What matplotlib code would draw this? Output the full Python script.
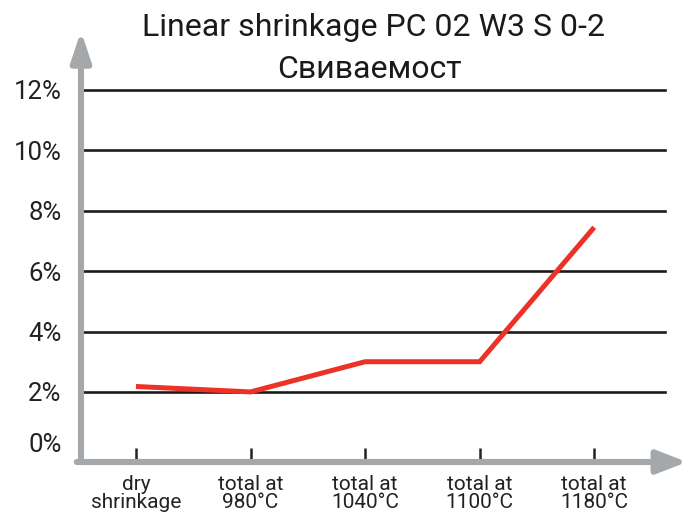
import matplotlib
matplotlib.use("Agg")
import matplotlib.pyplot as plt

# ---- data ----
categories = ["dry\nshrinkage", "total at\n980°C", "total at\n1040°C",
              "total at\n1100°C", "total at\n1180°C"]
shrinkage = [2.18, 2.0, 3.0, 3.0, 7.45]
y_ticks = [0, 2, 4, 6, 8, 10, 12]
y_tick_labels = ["0%", "2%", "4%", "6%", "8%", "10%", "12%"]
title_line1 = "Linear shrinkage PC 02 W3 S 0-2"
title_line2 = "Свиваемост"

plt.rcParams['font.family'] = ['Roboto', 'DejaVu Sans']

fig = plt.figure(figsize=(6.89, 5.13), dpi=100)
ax = fig.add_axes([81/689, 51/513, 606/689, 431/513])
x = list(range(len(categories)))

ax.set_xlim(-0.48, 4.81)
ax.set_ylim(-0.32, 13.95)

for s in ax.spines.values():
    s.set_visible(False)

grid_color = "#1c1c1c"
for v in y_ticks[1:]:
    ax.axhline(v, xmin=0.005, xmax=0.964, color=grid_color, lw=1.9, zorder=1)

ax.plot(x, shrinkage, color="#ec3127", lw=3.6, solid_capstyle="butt",
        solid_joinstyle="miter", zorder=3)

text_color = "#222222"
ax.set_yticks(y_ticks)
ax.set_yticklabels(y_tick_labels)
ax.tick_params(axis='y', length=0, pad=14, labelsize=18.5, labelcolor=text_color)
ax.get_yticklabels()[0].set_verticalalignment('baseline')
ax.set_xticks(x)
ax.set_xticklabels(categories, linespacing=0.95)
ax.tick_params(axis='x', direction='in', length=10, width=1.8, color=text_color,
               pad=9, labelsize=15, labelcolor=text_color)

axis_color = "#a5a8ab"
ax.annotate("", xy=(0, 1), xytext=(0, -0.0), xycoords='axes fraction',
            textcoords='axes fraction',
            arrowprops=dict(arrowstyle='-|>,head_length=1.8,head_width=0.6',
                            lw=4.4, color=axis_color, shrinkA=0, shrinkB=0),
            annotation_clip=False, zorder=5)
ax.annotate("", xy=(1, 0), xytext=(-0.007, 0), xycoords='axes fraction',
            textcoords='axes fraction',
            arrowprops=dict(arrowstyle='-|>,head_length=1.8,head_width=0.7',
                            lw=4.4, color=axis_color, shrinkA=0, shrinkB=0),
            annotation_clip=False, zorder=5)

fig.text(374/689, 1 - 28/513, title_line1, ha='center', va='center',
         fontsize=23, color="#1a1a1a")
fig.text(369/689, 1 - 69/513, title_line2, ha='center', va='center',
         fontsize=23, color="#1a1a1a")

fig.savefig("out.png", dpi=100)
